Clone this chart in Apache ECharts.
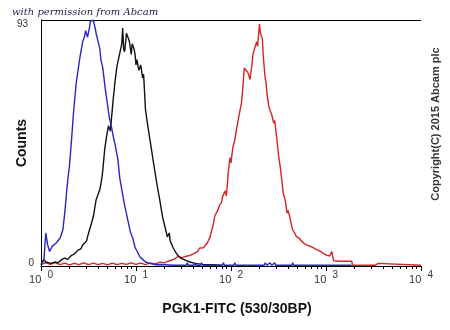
<!DOCTYPE html>
<html>
<head>
<meta charset="utf-8">
<script src="https://cdn.jsdelivr.net/npm/echarts@6/dist/echarts.min.js"></script>
<style>
    html, body { margin: 0; padding: 0; background: #fff; }
    #main { width: 450px; height: 330px; }
</style>
</head>
<body>
<div id="main"></div>
<script>
// x values are decades (log10 of fluorescence), y values are counts
var bluePts = [
    [0.00, 0.5], [0.03, 2], [0.05, 12.5], [0.07, 8], [0.09, 5.5], [0.12, 7.5], [0.16, 8.7], [0.20, 10.5],
    [0.23, 13.6], [0.25, 20], [0.28, 32], [0.30, 38], [0.32, 47], [0.34, 57], [0.37, 69], [0.39, 74],
    [0.41, 79], [0.44, 85], [0.46, 87], [0.47, 89], [0.49, 86.5], [0.51, 90], [0.52, 92.5], [0.55, 93],
    [0.57, 90], [0.58, 88], [0.60, 85], [0.62, 82], [0.63, 78], [0.65, 75], [0.66, 72], [0.68, 66],
    [0.70, 61], [0.72, 56], [0.74, 53], [0.76, 49], [0.78, 46], [0.81, 40], [0.83, 33], [0.86, 27],
    [0.88, 23], [0.91, 18], [0.94, 13], [0.97, 10], [0.99, 7], [1.02, 5], [1.04, 3.5], [1.07, 2.5],
    [1.10, 1.5], [1.14, 1], [1.20, 0.5], [1.30, 0.5], [1.40, 0.3], [1.53, 0.3], [1.54, 1.2], [1.55, 0.3],
    [1.61, 0.3], [1.62, 1.2], [1.63, 0.3], [1.68, 0.3], [1.69, 1.2], [1.70, 0.3], [1.91, 0.3], [1.92, 1.2],
    [1.93, 0.3], [2.03, 0.3], [2.04, 1.2], [2.05, 0.3], [2.35, 0.3], [2.36, 1.2], [2.38, 0.3], [2.41, 1.2],
    [2.43, 0.3], [2.46, 1.2], [2.47, 0.3], [2.64, 0.3], [2.65, 1.2], [2.66, 0.3], [3.27, 0.3]
];
var blackPts = [
    [0.00, 0.5], [0.03, 2.5], [0.05, 1.5], [0.10, 1], [0.15, 1.5], [0.18, 1.2], [0.22, 2.5], [0.25, 3],
    [0.28, 2.5], [0.32, 4], [0.35, 4.5], [0.39, 6], [0.42, 6.5], [0.44, 8], [0.46, 8.7], [0.48, 9.5],
    [0.49, 11], [0.51, 13.6], [0.53, 16], [0.55, 18.5], [0.58, 25], [0.60, 27], [0.62, 29], [0.64, 33],
    [0.65, 36], [0.67, 44], [0.69, 49], [0.71, 53], [0.73, 51], [0.74, 55], [0.76, 63], [0.78, 70],
    [0.80, 75.6], [0.83, 80.6], [0.85, 84], [0.86, 90], [0.87, 82], [0.88, 81], [0.90, 88], [0.91, 87],
    [0.93, 85], [0.95, 80], [0.96, 84], [0.98, 82], [0.99, 80], [1.00, 76], [1.01, 78], [1.03, 74],
    [1.05, 76], [1.07, 71], [1.08, 72.5], [1.10, 59], [1.12, 54], [1.15, 47], [1.18, 40], [1.22, 31],
    [1.25, 25], [1.28, 18.5], [1.31, 14], [1.33, 11], [1.35, 12.5], [1.36, 9.5], [1.39, 7], [1.42, 5],
    [1.44, 4], [1.47, 3], [1.49, 3.2], [1.53, 2], [1.57, 1.5], [1.62, 1], [1.70, 0.6], [1.80, 0.5],
    [1.90, 0.3]
];
var redPts = [
    [0.00, 0.5], [0.05, 1.2], [0.10, 0.6], [0.15, 1.3], [0.20, 0.5], [0.25, 1.1], [0.30, 0.4], [0.35, 1.0],
    [0.40, 0.5], [0.45, 1.2], [0.50, 0.5], [0.55, 1.1], [0.60, 0.5], [0.65, 1.0], [0.70, 0.4], [0.75, 1.1],
    [0.80, 0.5], [0.85, 1.0], [0.90, 0.6], [0.95, 1.2], [1.00, 0.6], [1.05, 1.1], [1.10, 0.5], [1.15, 1.2],
    [1.20, 0.8], [1.25, 1.4], [1.30, 1.2], [1.35, 2], [1.40, 2.5], [1.45, 3.8], [1.48, 3], [1.52, 3.6],
    [1.57, 4], [1.62, 4.9], [1.65, 5.5], [1.67, 6.8], [1.71, 6.9], [1.75, 8.7], [1.78, 11], [1.80, 14],
    [1.81, 15], [1.83, 19], [1.85, 19.3], [1.86, 21], [1.88, 23], [1.90, 24], [1.91, 26], [1.92, 27],
    [1.94, 28.4], [1.95, 26.5], [1.96, 30], [1.97, 35], [1.99, 41], [2.00, 39], [2.02, 45], [2.04, 47.6],
    [2.06, 52], [2.09, 58], [2.11, 61.6], [2.12, 65.4], [2.14, 74.8], [2.16, 74], [2.18, 73], [2.20, 70.5],
    [2.22, 76], [2.23, 79.8], [2.25, 82.4], [2.27, 84.7], [2.28, 83], [2.30, 91.5], [2.31, 88], [2.33, 86],
    [2.34, 79], [2.36, 71], [2.37, 69], [2.38, 64.6], [2.40, 60], [2.43, 57], [2.45, 54], [2.46, 55],
    [2.48, 49], [2.50, 42], [2.52, 37], [2.55, 27.6], [2.57, 25], [2.59, 20], [2.60, 21], [2.62, 18.5],
    [2.64, 15], [2.65, 13.6], [2.67, 12.5], [2.69, 11], [2.72, 10.5], [2.74, 9.5], [2.77, 8.5], [2.80, 7.9],
    [2.83, 7.5], [2.86, 7], [2.90, 6.2], [2.93, 5.8], [2.97, 4.8], [3.01, 4], [3.04, 3.8], [3.06, 5.5],
    [3.08, 2], [3.15, 1.8], [3.27, 1.8], [3.28, 0.3], [3.48, 0.3], [3.50, 1], [3.52, 0.3], [3.55, 1],
    [3.57, 0.3], [4.00, 0.3]
];
var decades = [0, 1, 2, 3, 4];
var minorSteps = [2, 3, 4, 5, 6, 7, 8, 9];
var yTicks = [0, 93];

var minorTicks = [];
for (var d = 0; d < 4; d++) {
    for (var m of minorSteps) {
        minorTicks.push(d + Math.log10(m));
    }
}

var myChart = echarts.init(document.getElementById('main'));
var option = {
    animation: false,
    backgroundColor: '#fff',
    grid: {
        left: 41,
        right: 29,
        top: 20,
        bottom: 64,
        outerBoundsMode: 'none',
        containLabel: false
    },
    graphic: [{
        type: 'text',
        left: 12,
        top: 7,
        style: {
            text: 'with permission from Abcam',
            font: 'italic 10px "DejaVu Serif"',
            fill: '#1c1c4c'
        }
    }, {
        type: 'text',
        x: 436,
        y: 124,
        rotation: Math.PI / 2,
        style: {
            text: 'Copyright(C) 2015 Abcam plc',
            font: 'bold 11px "Liberation Sans"',
            fill: '#333',
            align: 'center',
            verticalAlign: 'middle'
        }
    }],
    xAxis: [{
        type: 'value',
        min: 0,
        max: 4,
        interval: 1,
        position: 'bottom',
        name: 'PGK1-FITC (530/30BP)',
        nameLocation: 'middle',
        nameGap: 36,
        nameMoveOverlap: false,
        nameTextStyle: {
            fontFamily: 'Liberation Sans',
            fontWeight: 'bold',
            fontSize: 14,
            color: '#111',
            padding: [0, 0, 0, 12]
        },
        axisLine: { lineStyle: { color: '#000', width: 1 } },
        axisTick: { length: 5, lineStyle: { color: '#000' } },
        splitLine: { show: false },
        axisLabel: {
            margin: 4,
            fontFamily: 'Liberation Sans',
            fontSize: 11,
            color: '#333',
            formatter: function (value) {
                return '10  {e|' + value + '}';
            },
            rich: {
                e: { fontSize: 10, color: '#333', fontFamily: 'Liberation Sans', padding: [0, 0, 9, 0] }
            }
        }
    }, {
        // minor ticks, moved down onto the bottom edge
        type: 'value',
        min: 0,
        max: 4,
        position: 'top',
        offset: -246,
        axisLine: { show: false },
        axisLabel: { show: false },
        splitLine: { show: false },
        axisTick: { inside: true, length: 3, lineStyle: { color: '#000' }, customValues: minorTicks }
    }],
    yAxis: [{
        type: 'value',
        min: 0,
        max: 93,
        interval: 93,
        position: 'left',
        name: 'Counts',
        nameLocation: 'middle',
        nameRotate: 90,
        nameGap: 12,
        nameMoveOverlap: false,
        nameTextStyle: {
            fontFamily: 'Liberation Sans',
            fontWeight: 'bold',
            fontSize: 14,
            color: '#111'
        },
        axisLine: { show: true, lineStyle: { color: '#000', width: 1 } },
        axisTick: { show: false },
        splitLine: { show: true, lineStyle: { color: '#000', width: 1 } },
        axisLabel: {
            customValues: yTicks,
            margin: 7,
            fontFamily: 'Liberation Sans',
            fontSize: 10,
            color: '#333',
            formatter: function (value) {
                return value === 0 ? '{lo|0}' : '{hi|' + value + '}';
            },
            rich: {
                lo: { fontSize: 10, color: '#333', fontFamily: 'Liberation Sans', padding: [0, 0, 6, 0] },
                hi: { fontSize: 10, color: '#333', fontFamily: 'Liberation Sans', padding: [8, 6, 0, 0] }
            }
        }
    }, {
        type: 'value',
        min: 0,
        max: 93,
        position: 'right',
        axisLine: { show: true, lineStyle: { color: '#000', width: 1 } },
        axisTick: { show: false },
        axisLabel: { show: false },
        splitLine: { show: false }
    }],
    series: [{
        name: 'red',
        type: 'line',
        data: redPts,
        showSymbol: false,
        lineStyle: { color: '#d42424', width: 1.4 },
        itemStyle: { color: '#d42424' }
    }, {
        name: 'black',
        type: 'line',
        data: blackPts,
        showSymbol: false,
        lineStyle: { color: '#111', width: 1.4 },
        itemStyle: { color: '#111' }
    }, {
        name: 'blue',
        type: 'line',
        data: bluePts,
        showSymbol: false,
        lineStyle: { color: '#2626c4', width: 1.4 },
        itemStyle: { color: '#2626c4' }
    }]
};
myChart.setOption(option);
</script>
</body>
</html>
